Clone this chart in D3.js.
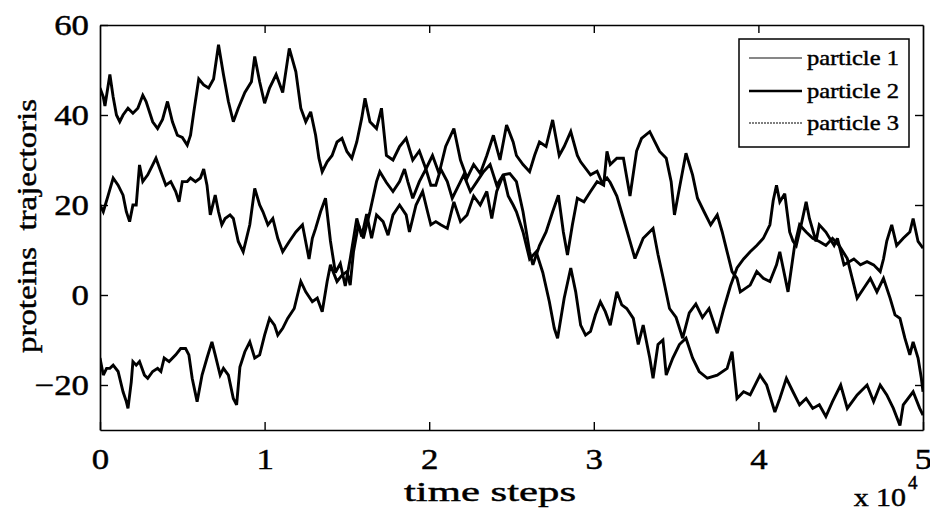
<!DOCTYPE html>
<html><head><meta charset="utf-8">
<script src="https://cdn.jsdelivr.net/npm/d3@7"></script>
<style>body{margin:0;background:#fff}</style>
</head><body><svg id="c" width="930" height="512"></svg>
<script>
const xTicks = [0,1,2,3,4,5];
const yTicks = [-20,0,20,40,60];
const seriesNames = ["particle 1","particle 2","particle 3"];
const xLabel = "time steps";
const yLabel = "proteins  trajectoris";

const particle1 = [[0,46],[0.02,44],[0.03,42],[0.06,49],[0.08,44],[0.10,40],[0.12,38.5],[0.14,40],[0.17,41.5],[0.20,40.4],[0.23,41.5],[0.26,44.4],[0.28,43],[0.32,38.5],[0.35,37],[0.38,39],[0.41,43],[0.44,38.5],[0.47,35.5],[0.50,35],[0.53,33.3],[0.55,35.5],[0.57,40.7],[0.60,48],[0.63,46.7],[0.66,46],[0.69,48],[0.72,55.6],[0.75,49],[0.78,43],[0.81,38.5],[0.84,41.5],[0.88,45],[0.92,47.4],[0.94,53],[0.97,47.4],[1.00,42.6],[1.03,46],[1.07,49],[1.11,45],[1.15,54.8],[1.19,49.6],[1.22,41.5],[1.25,38.5],[1.28,40.7],[1.31,35.5],[1.33,30.4],[1.35,27.4],[1.38,29.6],[1.41,31],[1.44,34],[1.47,34.8],[1.50,31.9],[1.53,30.4],[1.56,34],[1.59,39.3],[1.61,43.7],[1.64,38.5],[1.68,37],[1.71,41.5],[1.74,31],[1.78,30],[1.82,33],[1.86,34.8],[1.90,30],[1.94,32],[1.98,28],[2.02,31],[2.06,27],[2.10,33],[2.15,37],[2.19,30],[2.23,26],[2.27,29],[2.31,27],[2.35,31],[2.39,35.5],[2.43,30],[2.47,37.8],[2.51,34],[2.53,31],[2.57,29],[2.61,27.4],[2.64,31],[2.67,34],[2.71,33],[2.75,38.9],[2.79,31],[2.82,33],[2.86,36.3],[2.90,31],[2.92,29.6],[2.98,26.7],[3.02,27.5],[3.05,25],[3.08,26],[3.10,25],[3.14,22],[3.18,17],[3.22,11.9],[3.25,8.1],[3.30,12.6],[3.36,14.8],[3.39,9],[3.42,4],[3.46,-3],[3.50,-5],[3.54,-9.6],[3.58,-4],[3.62,-2],[3.66,-5],[3.70,-3],[3.75,-8.5],[3.79,-3],[3.83,2],[3.87,6],[3.91,8],[3.95,9.6],[3.99,11],[4.03,12.6],[4.07,15.6],[4.09,21],[4.11,24.4],[4.13,20.7],[4.16,22.5],[4.19,14],[4.21,12],[4.23,11],[4.26,15.6],[4.29,20.7],[4.31,17],[4.35,11.9],[4.37,15.6],[4.41,14],[4.46,11],[4.48,12.6],[4.52,6.7],[4.58,8],[4.62,6.7],[4.66,7.4],[4.70,6.7],[4.74,5.2],[4.76,8],[4.78,12],[4.81,15.6],[4.84,11],[4.88,12.6],[4.92,14],[4.94,17],[4.97,11.9],[5.00,10.4]];

const particle2 = [[0,20],[0.02,18.5],[0.05,22.2],[0.08,26],[0.11,24.4],[0.14,22.2],[0.16,18.5],[0.18,16.3],[0.20,20],[0.22,20],[0.24,28.9],[0.26,25.2],[0.29,26.7],[0.32,28.9],[0.34,30.4],[0.37,27.4],[0.40,24.4],[0.43,25.2],[0.46,23],[0.48,20.7],[0.50,25.2],[0.53,25.2],[0.55,26],[0.58,25.2],[0.61,26],[0.63,28],[0.65,24.4],[0.67,17.8],[0.70,22.2],[0.72,18.5],[0.74,15.6],[0.76,17],[0.79,17.8],[0.81,17],[0.84,11.9],[0.87,9.6],[0.91,15.6],[0.94,23.7],[0.97,20],[0.99,18.5],[1.02,15.6],[1.05,17],[1.08,12.6],[1.11,9.6],[1.15,11.9],[1.19,14],[1.23,15.6],[1.27,8],[1.29,12.6],[1.31,14.8],[1.34,18.5],[1.37,21.5],[1.40,12],[1.43,5],[1.46,7],[1.49,2],[1.52,8],[1.56,17],[1.59,13],[1.62,18],[1.65,12.6],[1.68,17.8],[1.72,16.3],[1.75,13.3],[1.78,17.8],[1.82,20],[1.86,17.8],[1.88,14],[1.92,20],[1.96,23],[1.99,18.5],[2.01,15.6],[2.04,16.3],[2.07,15.6],[2.11,14.8],[2.15,20.7],[2.19,16.3],[2.23,17.8],[2.27,22],[2.31,20],[2.35,23],[2.38,17],[2.41,23],[2.45,26.7],[2.48,22],[2.51,20],[2.53,18.5],[2.57,14],[2.61,8],[2.65,9.6],[2.69,5],[2.73,-1.5],[2.76,-7.4],[2.78,-9.6],[2.82,-0.7],[2.86,6],[2.89,0.7],[2.92,-6.7],[2.95,-8.9],[2.98,-8.1],[3.01,-4.4],[3.04,-1.5],[3.07,-3.7],[3.10,-6.7],[3.14,0.7],[3.17,-2.2],[3.20,-3],[3.24,-5.2],[3.27,-11],[3.30,-6.7],[3.34,-14],[3.36,-18.5],[3.39,-11],[3.42,-10],[3.44,-17.8],[3.48,-14],[3.52,-11],[3.56,-9.6],[3.60,-14],[3.64,-17],[3.69,-18.5],[3.75,-17.8],[3.81,-16.3],[3.84,-12.6],[3.87,-23],[3.91,-21.5],[3.95,-22.2],[4.01,-17.8],[4.05,-20],[4.10,-26],[4.13,-23],[4.17,-18.5],[4.21,-21.5],[4.25,-24.4],[4.29,-23],[4.33,-25.2],[4.37,-24.4],[4.41,-27],[4.45,-23.7],[4.50,-20],[4.54,-25.2],[4.60,-22.2],[4.66,-20],[4.70,-23.7],[4.74,-20],[4.78,-22.2],[4.82,-25.2],[4.86,-29],[4.88,-24.4],[4.94,-21.5],[4.98,-25.2],[5.00,-26.7]];

const particle3 = [[0,-14],[0.02,-17.8],[0.04,-16.3],[0.06,-16.3],[0.08,-15.6],[0.11,-17],[0.14,-21.5],[0.16,-23.7],[0.17,-25.2],[0.19,-19.3],[0.20,-14.8],[0.22,-15.6],[0.24,-14.8],[0.27,-17.8],[0.29,-18.5],[0.32,-17],[0.35,-16.3],[0.37,-17],[0.39,-14],[0.42,-14.8],[0.46,-13.3],[0.49,-11.9],[0.52,-11.9],[0.54,-13.3],[0.56,-18.5],[0.59,-23.7],[0.62,-17.8],[0.65,-14],[0.68,-10.4],[0.70,-13.3],[0.73,-17.8],[0.75,-16.3],[0.78,-17.8],[0.81,-23],[0.83,-24.4],[0.85,-16],[0.88,-12.6],[0.91,-10.4],[0.94,-14],[0.97,-13.3],[1.00,-8.9],[1.03,-5.2],[1.06,-6.7],[1.08,-8.9],[1.11,-7.4],[1.14,-5.2],[1.18,-3],[1.22,3],[1.25,0.7],[1.29,-1.5],[1.32,-0.7],[1.35,-3.7],[1.38,3],[1.40,6.7],[1.44,3],[1.47,4.4],[1.50,5.2],[1.52,2.2],[1.54,9.6],[1.57,15.6],[1.60,12.6],[1.64,18.5],[1.68,25.2],[1.70,27.4],[1.74,25],[1.78,23],[1.82,25.2],[1.85,28],[1.87,25.2],[1.90,21.5],[1.94,25.2],[1.98,28],[2.01,24.4],[2.04,24.4],[2.07,28],[2.11,25.2],[2.14,21.5],[2.19,25.2],[2.21,26.7],[2.25,23],[2.29,25.2],[2.33,27.4],[2.37,29],[2.41,24.4],[2.45,26.7],[2.49,27],[2.53,25.2],[2.57,18.5],[2.61,9.6],[2.63,6.7],[2.67,11],[2.71,14],[2.75,18.5],[2.785,22.2],[2.815,14],[2.84,8.9],[2.87,15.6],[2.90,21.5],[2.94,20.7],[2.98,23],[3.02,25.2],[3.06,24.4],[3.08,31.9],[3.10,29],[3.14,30.4],[3.18,30.4],[3.22,22],[3.26,32],[3.29,34.8],[3.34,36.3],[3.40,31.9],[3.44,30.4],[3.47,25.2],[3.49,17.8],[3.52,23.7],[3.56,31.5],[3.60,26.7],[3.63,21.5],[3.67,18.5],[3.71,15.6],[3.75,17.8],[3.78,14],[3.81,9.6],[3.84,5.2],[3.87,3.7],[3.89,0.7],[3.95,2.2],[3.99,5.2],[4.03,3.7],[4.07,3],[4.11,6.7],[4.13,9.6],[4.18,0.7],[4.22,11],[4.25,15.6],[4.29,14],[4.33,12.6],[4.37,11.9],[4.41,11],[4.45,12.6],[4.49,11],[4.54,8.1],[4.57,3.7],[4.60,-0.7],[4.64,1.5],[4.68,3.7],[4.72,0.7],[4.76,3.7],[4.80,-0.7],[4.83,-4.4],[4.86,-5.2],[4.89,-9.6],[4.92,-13.3],[4.94,-10.4],[4.97,-14],[4.99,-18.5],[5.00,-21.5]];

const W = 930, H = 512;
const X0 = 100, X1 = 923, Y0 = 25, Y1 = 430;
const FONT = "'Liberation Serif','Times New Roman',Times,serif";
const INK = 0.45;

const x = d3.scaleLinear().domain([0, 5]).range([X0, X1]);
const y = d3.scaleLinear().domain([-30, 60]).range([Y1, Y0]);

const svg = d3.select("#c");
svg.append("rect").attr("width", W).attr("height", H).attr("fill", "#fff");
svg.append("defs").append("clipPath").attr("id", "clip")
  .append("rect").attr("x", X0).attr("y", Y0).attr("width", X1 - X0).attr("height", Y1 - Y0);

function stretch(sel, k) {
  sel.each(function () {
    const n = this.getComputedTextLength();
    if (n > 0) d3.select(this).attr("textLength", n * k).attr("lengthAdjust", "spacingAndGlyphs");
  });
}
function ink(sel) { return sel.attr("fill", "#000").attr("stroke", "#000").attr("stroke-width", INK); }

// data lines
const line = d3.line().x(d => x(d[0])).y(d => y(d[1]));
const plot = svg.append("g").attr("clip-path", "url(#clip)");
[particle1, particle2, particle3].forEach(s => {
  plot.append("path").datum(s).attr("d", line)
    .attr("fill", "none").attr("stroke", "#000").attr("stroke-width", 2.9)
    .attr("stroke-linejoin", "miter").attr("stroke-miterlimit", 3);
});

// axes
function styleAxis(g) {
  g.select(".domain").attr("stroke", "#000").attr("stroke-width", 1.7);
  g.selectAll(".tick line").attr("stroke", "#000").attr("stroke-width", 1.4);
  ink(g.selectAll("text").attr("font-family", FONT).attr("font-size", 29));
}
const gb = svg.append("g").attr("transform", `translate(0,${Y1})`)
  .call(d3.axisBottom(x).tickValues(xTicks).tickFormat(d3.format("d")).tickSize(-8).tickSizeOuter(0).tickPadding(18));
styleAxis(gb);
const gl = svg.append("g").attr("transform", `translate(${X0},0)`)
  .call(d3.axisLeft(y).tickValues(yTicks).tickFormat(d3.format("d")).tickSize(-8).tickSizeOuter(0).tickPadding(11));
styleAxis(gl);
const gt = svg.append("g").attr("transform", `translate(0,${Y0})`)
  .call(d3.axisTop(x).tickValues(xTicks.slice(1, -1)).tickFormat("").tickSize(-8).tickSizeOuter(0));
styleAxis(gt);
const gr = svg.append("g").attr("transform", `translate(${X1},0)`)
  .call(d3.axisRight(y).tickValues(yTicks.slice(0, -1)).tickFormat("").tickSize(-8).tickSizeOuter(0));
styleAxis(gr);
stretch(gb.selectAll("text"), 1.2);
stretch(gl.selectAll("text"), 1.2);

// axis titles
ink(svg.append("text").attr("x", 490).attr("y", 501).attr("text-anchor", "middle")
  .attr("font-family", FONT).attr("font-size", 28).text(xLabel))
  .attr("textLength", 172).attr("lengthAdjust", "spacingAndGlyphs");

ink(svg.append("text").attr("transform", "translate(36,226) rotate(-90)")
  .attr("text-anchor", "middle").attr("font-family", FONT).attr("font-size", 27)
  .style("white-space", "pre").text(yLabel))
  .attr("textLength", 254).attr("lengthAdjust", "spacingAndGlyphs");

const ex = ink(svg.append("text").attr("x", 906).attr("y", 506).attr("text-anchor", "end")
  .attr("font-family", FONT).attr("font-size", 26).text("x 10"));
stretch(ex, 1.15);
ink(svg.append("text").attr("x", 908).attr("y", 489)
  .attr("font-family", FONT).attr("font-size", 19).text("4"));

// legend
const lg = svg.append("g");
lg.append("rect").attr("x", 739).attr("y", 39).attr("width", 170).attr("height", 108)
  .attr("fill", "#fff").attr("stroke", "#000").attr("stroke-width", 1.5);
const legStyles = [
  {w: 1.1, c: "#111", dash: null},
  {w: 2.6, c: "#000", dash: null},
  {w: 1.4, c: "#555", dash: "2,1"}
];
const rowsY = [58, 91, 123];
seriesNames.forEach((nm, i) => {
  const s = legStyles[i];
  const ln = lg.append("line").attr("x1", 749).attr("x2", 802).attr("y1", rowsY[i]).attr("y2", rowsY[i])
    .attr("stroke", s.c).attr("stroke-width", s.w);
  if (s.dash) ln.attr("stroke-dasharray", s.dash);
  ink(lg.append("text").attr("x", 807).attr("y", rowsY[i] + 7)
    .attr("font-family", FONT).attr("font-size", 22).text(nm))
    .attr("textLength", 92).attr("lengthAdjust", "spacingAndGlyphs");
});
</script></body></html>
